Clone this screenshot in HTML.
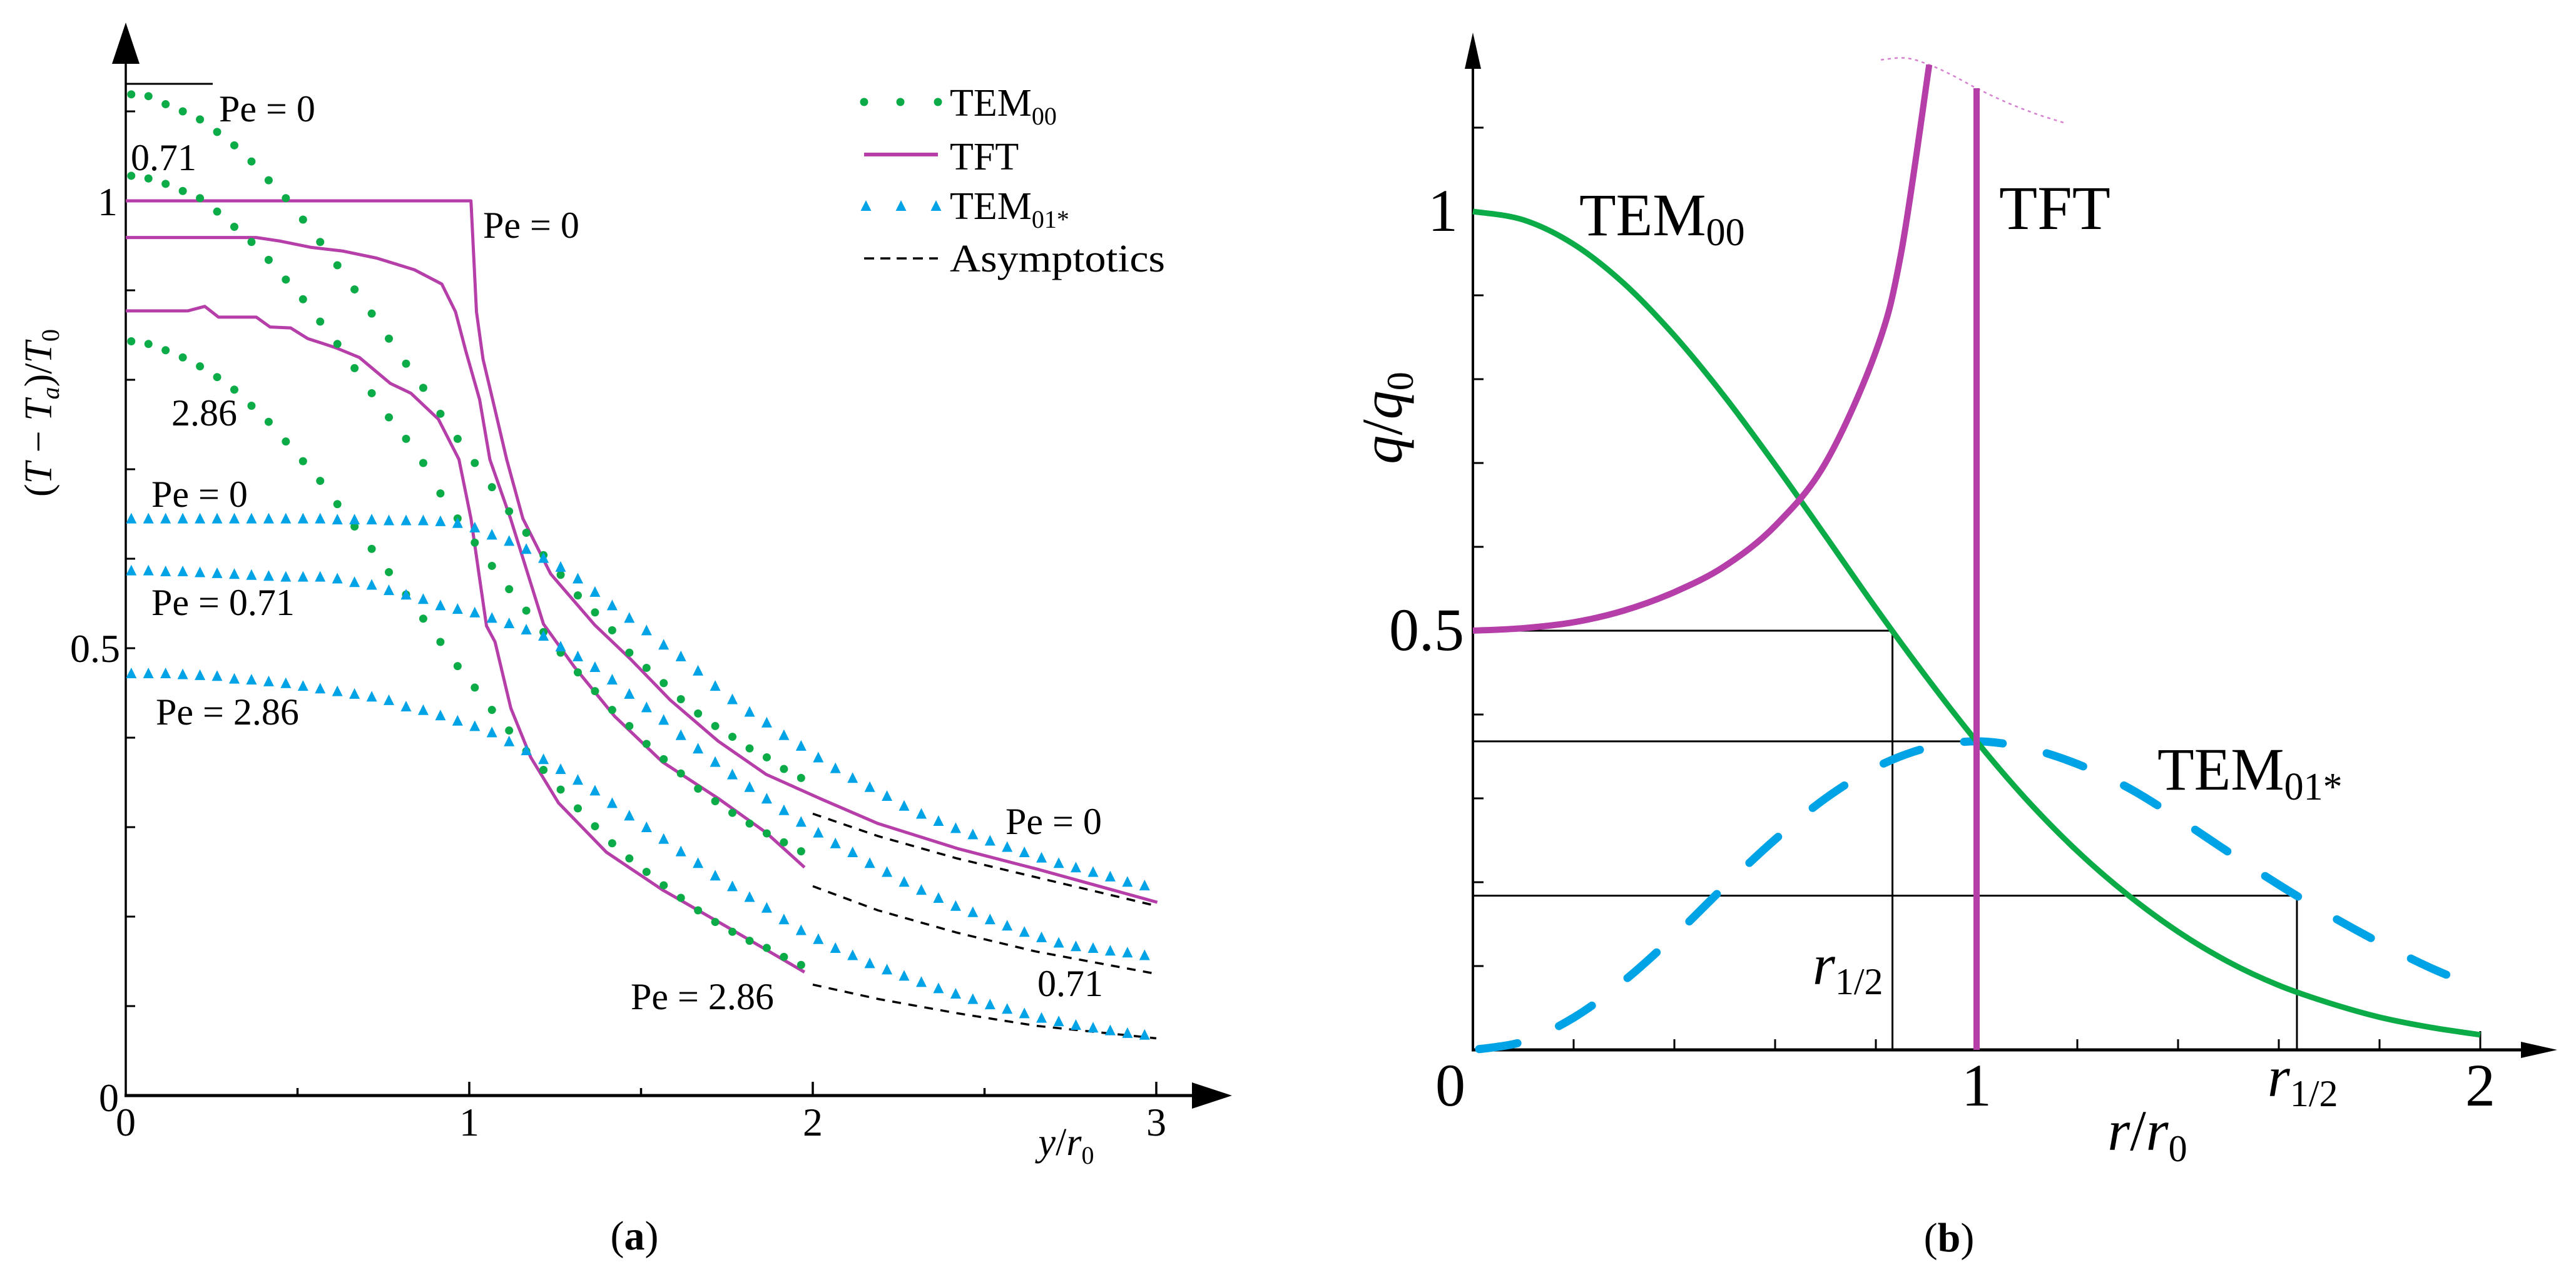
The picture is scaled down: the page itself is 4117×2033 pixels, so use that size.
<!DOCTYPE html>
<html><head><meta charset="utf-8"><style>
html,body{margin:0;padding:0;background:#fff}
svg{display:block}
text{font-family:"Liberation Serif",serif;fill:#000}
</style></head><body>
<svg id="fig" width="4117" height="2033" viewBox="0 0 4117 2033" xmlns="http://www.w3.org/2000/svg">
<g id="pa"></g>
<g id="pb"></g>
</svg>
<script>
// ===== Panel (a) data =====
const aTem00Pe0 = [1.119,1.117,1.108,1.100,1.091,1.077,1.062,1.044,1.023,1.003,0.979,0.954,0.928,0.901,0.874,0.846,0.818,0.791,0.762,0.734,0.707,0.680,0.653,0.629,0.604,0.582,0.559,0.540,0.520,0.495,0.478,0.461,0.443,0.427,0.413,0.401,0.388,0.378,0.365,0.355];
const aTem00Pe071 = [1.028,1.025,1.019,1.011,1.003,0.988,0.971,0.954,0.934,0.912,0.890,0.865,0.840,0.813,0.785,0.758,0.734,0.707,0.673,0.645,0.618,0.592,0.566,0.542,0.518,0.495,0.473,0.452,0.431,0.413,0.393,0.376,0.360,0.343,0.329,0.316,0.304,0.293,0.283,0.273];
const aTem00Pe286 = [0.843,0.840,0.833,0.825,0.815,0.803,0.789,0.771,0.753,0.731,0.709,0.687,0.661,0.636,0.611,0.585,0.560,0.533,0.507,0.480,0.456,0.431,0.408,0.385,0.364,0.342,0.321,0.301,0.282,0.265,0.250,0.235,0.221,0.207,0.194,0.183,0.173,0.165,0.155,0.146];
const aTem01Pe0 = [0.645,0.645,0.645,0.645,0.645,0.645,0.645,0.645,0.645,0.645,0.645,0.645,0.644,0.644,0.644,0.643,0.643,0.643,0.642,0.640,0.635,0.627,0.620,0.611,0.601,0.591,0.578,0.563,0.548,0.534,0.520,0.504,0.491,0.475,0.458,0.443,0.429,0.417,0.403,0.391,0.378,0.366,0.355,0.345,0.335,0.324,0.315,0.307,0.299,0.292,0.285,0.278,0.272,0.266,0.260,0.255,0.250,0.245,0.239,0.235];
const aTem01Pe071 = [0.587,0.587,0.586,0.586,0.585,0.584,0.583,0.582,0.581,0.580,0.580,0.580,0.578,0.574,0.571,0.565,0.560,0.555,0.548,0.544,0.540,0.534,0.528,0.521,0.514,0.502,0.491,0.479,0.465,0.449,0.434,0.420,0.403,0.388,0.373,0.359,0.345,0.332,0.319,0.306,0.294,0.282,0.272,0.260,0.250,0.239,0.230,0.221,0.212,0.205,0.197,0.190,0.183,0.177,0.171,0.167,0.165,0.162,0.160,0.157];
const aTem01Pe286 = [0.472,0.472,0.472,0.471,0.470,0.469,0.466,0.465,0.463,0.461,0.458,0.455,0.452,0.449,0.446,0.442,0.435,0.431,0.425,0.419,0.413,0.406,0.396,0.386,0.376,0.365,0.353,0.341,0.327,0.313,0.300,0.287,0.273,0.260,0.246,0.234,0.222,0.210,0.197,0.185,0.175,0.165,0.157,0.148,0.141,0.134,0.127,0.120,0.114,0.108,0.102,0.097,0.092,0.087,0.083,0.079,0.076,0.073,0.070,0.068];
const aMarkerStart = 0.016;
const aMarkerStep = 0.05;
const aTftPe0X = [0,1.005,1.021,1.040,1.068,1.109,1.156,1.237,1.365,1.469,1.585,1.725,1.864,2.027,2.190,2.422,2.654,3.003];
const aTftPe0Y = [1,1,0.876,0.823,0.778,0.711,0.645,0.583,0.526,0.488,0.442,0.396,0.359,0.331,0.304,0.276,0.253,0.216];
const aTftPe071X = [0,0.38,0.45,0.54,0.63,0.73,0.84,0.92,0.96,0.99,1.03,1.06,1.12,1.216,1.306,1.423,1.562,1.725,1.864,1.976];
const aTftPe071Y = [0.959,0.959,0.955,0.948,0.944,0.936,0.923,0.907,0.876,0.832,0.778,0.711,0.645,0.527,0.479,0.424,0.373,0.332,0.294,0.255];
const aTftPe286X = [0,0.18,0.23,0.27,0.38,0.42,0.48,0.53,0.61,0.68,0.77,0.83,0.91,0.97,1.005,1.03,1.05,1.075,1.121,1.179,1.260,1.399,1.562,1.748,1.976];
const aTftPe286Y = [0.877,0.877,0.882,0.870,0.870,0.859,0.858,0.846,0.836,0.825,0.796,0.785,0.756,0.711,0.645,0.578,0.525,0.507,0.433,0.378,0.327,0.272,0.230,0.189,0.138];
const aAsymX = [2.0,2.19,2.42,2.65,3.0];
const aAsymPe0 = [0.315,0.290,0.265,0.244,0.212];
const aAsymPe071 = [0.234,0.207,0.182,0.161,0.136];
const aAsymPe286 = [0.124,0.108,0.092,0.078,0.064];
const aXTicks = [0.5,1,1.5,2,2.5,3];
const aXTickLabels = ["0","1","2","3"];
const aYTicks = [0.1,0.2,0.3,0.4,0.5,0.6,0.7,0.8,0.9,1.0,1.1];

// ===== Panel (b) data =====
const bR = [0,0.1,0.2,0.3,0.4,0.5,0.6,0.7,0.8,0.9,1.0,1.1,1.2,1.3,1.4,1.5,1.6,1.7,1.8,1.9,2.0];
const bTem00 = [1,0.990,0.961,0.914,0.852,0.779,0.698,0.613,0.527,0.445,0.368,0.298,0.237,0.185,0.141,0.105,0.077,0.056,0.039,0.027,0.018];
const bTem01 = [0,0.0099,0.0384,0.0823,0.136,0.195,0.251,0.300,0.337,0.360,0.368,0.360,0.341,0.313,0.276,0.236,0.197,0.161,0.128,0.0982,0.0733];
const bTftR = [0,0.1,0.2,0.3,0.4,0.5,0.6,0.7,0.8,0.85,0.906];
const bTftQ = [0.5,0.503,0.510,0.524,0.546,0.577,0.625,0.700,0.833,0.95,1.175];
const bTftStepR = 1.0;
const bTftStepTop = 1.147;
const bTopDotR = [0.81,0.86,0.906,0.95,1.0,1.06,1.12,1.178];
const bTopDotQ = [1.181,1.183,1.175,1.163,1.147,1.130,1.116,1.105];
const bGuideQ = [0.5,0.368,0.184];
const bGuideR = [0.833,1.0,1.636];
const bXTicks = [0.2,0.4,0.6,0.8,1.0,1.2,1.4,1.6,1.8,2.0];
const bYTicks = [0.1,0.2,0.3,0.4,0.5,0.6,0.7,0.8,0.9,1.0,1.1];

const NS = "http://www.w3.org/2000/svg";
const GREEN = "#0bab47", MAG = "#b53ea9", BLUE = "#00a3e6";
function mk(parent, tag, attrs){ const e=document.createElementNS(NS,tag); for(const k in attrs) e.setAttribute(k,attrs[k]); parent.appendChild(e); return e; }
function txt(parent, x, y, s, size, anchor, extra){ const t=mk(parent,'text',Object.assign({x:x,y:y,'font-size':size,'text-anchor':anchor||'start'},extra||{})); t.innerHTML=s; return t; }

// axis functions
const ax = x => 201 + x*549;
const ay = y => 1751 - y*1430;
const bx = r => 2354 + r*805;
const by = q => 1678 - q*1340;

function smoothPath(pts){
  let d = "M"+pts[0][0].toFixed(1)+","+pts[0][1].toFixed(1);
  for(let i=0;i<pts.length-1;i++){
    const p0=pts[Math.max(i-1,0)], p1=pts[i], p2=pts[i+1], p3=pts[Math.min(i+2,pts.length-1)];
    const c1=[p1[0]+(p2[0]-p0[0])/6, p1[1]+(p2[1]-p0[1])/6];
    const c2=[p2[0]-(p3[0]-p1[0])/6, p2[1]-(p3[1]-p1[1])/6];
    d+=" C"+c1[0].toFixed(1)+","+c1[1].toFixed(1)+" "+c2[0].toFixed(1)+","+c2[1].toFixed(1)+" "+p2[0].toFixed(1)+","+p2[1].toFixed(1);
  }
  return d;
}
function polyPts(xs, ys, fx, fy){ return xs.map((x,i)=>fx(x).toFixed(1)+","+fy(ys[i]).toFixed(1)).join(" "); }
function tri(cx, cy){ return (cx).toFixed(1)+","+(cy-9).toFixed(1)+" "+(cx+8.5).toFixed(1)+","+(cy+8).toFixed(1)+" "+(cx-8.5).toFixed(1)+","+(cy+8).toFixed(1); }

// ===== Panel A =====
const pa = document.getElementById('pa');
// axes
const ya = mk(pa,'line',{x1:ax(0),y1:ay(0)+2,x2:ax(0),y2:100,stroke:'#000','stroke-width':3.5});
 
const yaArrow = mk(pa,'polygon',{points:"201,36 223,102 179,102",fill:'#000'});
 
const xa = mk(pa,'line',{x1:ax(0)-2,y1:ay(0),x2:1910,y2:ay(0),stroke:'#000','stroke-width':5});
 
const xaArrow = mk(pa,'polygon',{points:"1969,1751 1905,1730 1905,1772",fill:'#000'});
 
aYTicks.forEach(v=>{
  const t=mk(pa,'line',{x1:ax(0),y1:ay(v),x2:ax(0)+15,y2:ay(v),stroke:'#000','stroke-width':3});
   
});
aXTicks.forEach(v=>{
  const h = Number.isInteger(v)?22:12;
  const t=mk(pa,'line',{x1:ax(v),y1:ay(0),x2:ax(v),y2:ay(0)-h,stroke:'#000','stroke-width':3.5});
   
});
aXTickLabels.forEach((s,i)=>{
  const t=txt(pa, ax(i), 1815, s, 64, 'middle');
   
});
let t;
t=txt(pa,190,1776,"0",64,'end');  
t=txt(pa,192,1058,"0.5",64,'end');  
t=txt(pa,188,344,"1",64,'end');  
t=txt(pa,1704,1846,'<tspan font-style="italic">y</tspan>/<tspan font-style="italic">r</tspan><tspan font-size="40" dy="14">0</tspan>',62,'middle');
 
t=txt(pa,0,0,'(<tspan font-style="italic">T</tspan> − <tspan font-style="italic">T</tspan><tspan font-size="40" font-style="italic" dy="12">a</tspan><tspan dy="-12">)/</tspan><tspan font-style="italic">T</tspan><tspan font-size="40" dy="12">0</tspan>',62,'middle',{transform:'translate(82,660) rotate(-90)'});
 
t=txt(pa,1014,1997,'(<tspan font-weight="bold">a</tspan>)',66,'middle');
 
// top reference line
const topLine = mk(pa,'line',{x1:ax(0),y1:134,x2:340,y2:134,stroke:'#000','stroke-width':3});
 

// asymptotics
[[aAsymPe0,'asymptote-pe0'],[aAsymPe071,'asymptote-pe071'],[aAsymPe286,'asymptote-pe286']].forEach(([ys,n])=>{
  const p=mk(pa,'polyline',{points:polyPts(aAsymX,ys,ax,ay),fill:'none',stroke:'#000','stroke-width':3.5,'stroke-dasharray':'14 12'});
   
});
// TFT
[[aTftPe0X,aTftPe0Y,'tft-pe0'],[aTftPe071X,aTftPe071Y,'tft-pe071'],[aTftPe286X,aTftPe286Y,'tft-pe286']].forEach(([xs,ys,n])=>{
  const p=mk(pa,'polyline',{points:polyPts(xs,ys,ax,ay),fill:'none',stroke:MAG,'stroke-width':5,'stroke-linejoin':'round'});
   
});
// TEM00 dots
[[aTem00Pe0,'tem00-pe0'],[aTem00Pe071,'tem00-pe071'],[aTem00Pe286,'tem00-pe286']].forEach(([ys,n])=>{
  const g=mk(pa,'g',{fill:GREEN});
   
  ys.forEach((v,i)=>{
    const c=mk(g,'circle',{cx:ax(aMarkerStart+aMarkerStep*i),cy:ay(v),r:6.5});
     
  });
});
// TEM01* triangles
[[aTem01Pe0,'tem01-pe0'],[aTem01Pe071,'tem01-pe071'],[aTem01Pe286,'tem01-pe286']].forEach(([ys,n])=>{
  const g=mk(pa,'g',{fill:BLUE});
   
  ys.forEach((v,i)=>{
    const c=mk(g,'polygon',{points:tri(ax(aMarkerStart+aMarkerStep*i),ay(v))});
     
  });
});
// annotations
const ann = [[350,194,"Pe = 0"],[209,272,"0.71"],[772,380,"Pe = 0"],[274,680,"2.86"],[242,810,"Pe = 0"],[242,983,"Pe = 0.71"],[249,1158,"Pe = 2.86"],[1607,1333,"Pe = 0"],[1658,1592,"0.71"],[1008,1613,"Pe = 2.86"]];
ann.forEach(a=>{ const e=txt(pa,a[0],a[1],a[2],60,'start');   });
// legend
const lg = mk(pa,'g',{});
 
[1381,1439,1499].forEach(x=>{ const c=mk(lg,'circle',{cx:x,cy:163,r:6.5,fill:GREEN});   });
let le=mk(lg,'line',{x1:1381,y1:247,x2:1499,y2:247,stroke:MAG,'stroke-width':6});  
[1384,1440,1496].forEach(x=>{ const c=mk(lg,'polygon',{points:tri(x,329),fill:BLUE});   });
le=mk(lg,'line',{x1:1381,y1:413,x2:1499,y2:413,stroke:'#000','stroke-width':3.5,'stroke-dasharray':'16 10'});  
le=txt(lg,1518,185,'TEM<tspan font-size="40" dy="14">00</tspan>',62);  
le=txt(lg,1518,271,'TFT',62);  
le=txt(lg,1518,350,'TEM<tspan font-size="40" dy="14">01*</tspan>',62);  
le=txt(lg,1518,434,'Asymptotics',62,'start',{textLength:344,lengthAdjust:'spacingAndGlyphs'});  

// ===== Panel B =====
const pb = document.getElementById('pb');
const yb = mk(pb,'line',{x1:bx(0),y1:by(0)+2,x2:bx(0),y2:105,stroke:'#000','stroke-width':4});
 
const ybArrow = mk(pb,'polygon',{points:"2354,52 2367,110 2341,110",fill:'#000'});
 
const xb = mk(pb,'line',{x1:bx(0)-2,y1:by(0),x2:4035,y2:by(0),stroke:'#000','stroke-width':5});
 
const xbArrow = mk(pb,'polygon',{points:"4087,1678 4029,1665 4029,1691",fill:'#000'});
 
bYTicks.forEach(v=>{ const e=mk(pb,'line',{x1:bx(0),y1:by(v),x2:bx(0)+17,y2:by(v),stroke:'#000','stroke-width':3});   });
bXTicks.forEach(v=>{ const h = v===2.0?30:17; const e=mk(pb,'line',{x1:bx(v),y1:by(0),x2:bx(v),y2:by(0)-h,stroke:'#000','stroke-width':3});   });
t=txt(pb,2318,1767,"0",96,'middle');  
t=txt(pb,bx(1),1767,"1",96,'middle');  
t=txt(pb,bx(2),1767,"2",96,'middle');  
t=txt(pb,2306,369,"1",96,'middle');  
t=txt(pb,2280,1039,"0.5",96,'middle');  
t=txt(pb,3432,1838,'<tspan font-style="italic">r</tspan>/<tspan font-style="italic">r</tspan><tspan font-size="60" dy="18">0</tspan>',92,'middle');
 
t=txt(pb,0,0,'<tspan font-style="italic">q</tspan>/<tspan font-style="italic">q</tspan><tspan font-size="60" dy="18">0</tspan>',92,'middle',{transform:'translate(2240,668) rotate(-90)'});
 
t=txt(pb,3115,2000,'(<tspan font-weight="bold">b</tspan>)',66,'middle');
 

// guide lines
bGuideQ.forEach((q,i)=>{
  const h=mk(pb,'line',{x1:bx(0),y1:by(q),x2:bx(bGuideR[i]),y2:by(q),stroke:'#000','stroke-width':3});
   
});
[0,2].forEach(i=>{
  const v=mk(pb,'line',{x1:bx(bGuideR[i]),y1:by(bGuideQ[i]),x2:bx(bGuideR[i]),y2:by(0),stroke:'#000','stroke-width':3});
   
});
// top dotted
let p=mk(pb,'path',{d:smoothPath(bTopDotR.map((r,i)=>[bx(r),by(bTopDotQ[i])])),fill:'none',stroke:'#d680cf','stroke-width':2.5,'stroke-dasharray':'5 6'});
 
// TEM01 dashed
p=mk(pb,'path',{d:smoothPath(bR.map((r,i)=>[bx(r),by(bTem01[i])])),fill:'none',stroke:BLUE,'stroke-width':13,'stroke-linecap':'round','stroke-dasharray':'62 72','stroke-dashoffset':'-10'});
 
// TEM00 green
p=mk(pb,'path',{d:smoothPath(bR.map((r,i)=>[bx(r),by(bTem00[i])])),fill:'none',stroke:GREEN,'stroke-width':9});
 
// TFT curve
p=mk(pb,'path',{d:smoothPath(bTftR.map((r,i)=>[bx(r),by(bTftQ[i])])),fill:'none',stroke:MAG,'stroke-width':10});
 
p=mk(pb,'line',{x1:bx(bTftStepR),y1:by(bTftStepTop),x2:bx(bTftStepR),y2:by(0),stroke:MAG,'stroke-width':10});
 
// labels
t=txt(pb,2524,376,'TEM<tspan font-size="62" dy="16">00</tspan>',96);  
t=txt(pb,3195,366,'TFT',100);  
t=txt(pb,3448,1262,'TEM<tspan font-size="62" dy="16">01*</tspan>',96);  
t=txt(pb,2897,1573,'<tspan font-style="italic">r</tspan><tspan font-size="60" dy="16">1/2</tspan>',92);  
t=txt(pb,3624,1752,'<tspan font-style="italic">r</tspan><tspan font-size="60" dy="16">1/2</tspan>',92);  
</script>
</body></html>
